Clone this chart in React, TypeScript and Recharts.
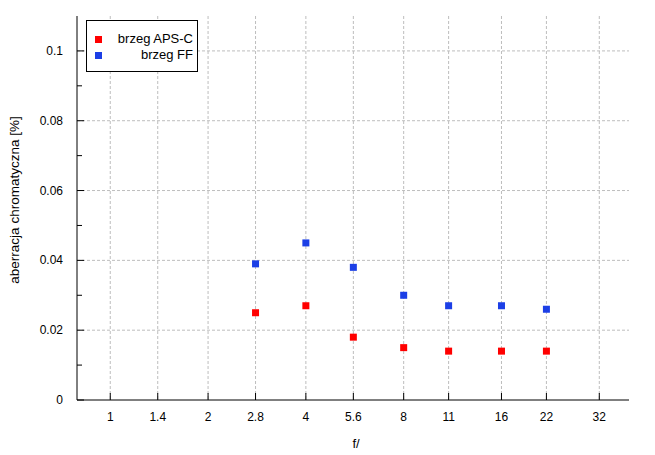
import React from 'react';
import { ScatterChart, Scatter, XAxis, YAxis, CartesianGrid } from 'recharts';

const apertures = [2.8, 4, 5.6, 8, 11, 16, 22];
const apscEdge = [0.025, 0.027, 0.018, 0.015, 0.014, 0.014, 0.014];
const ffEdge = [0.039, 0.045, 0.038, 0.03, 0.027, 0.027, 0.026];
const xTicks = [1, 1.4, 2, 2.8, 4, 5.6, 8, 11, 16, 22, 32];
const yTicks = [0, 0.01, 0.02, 0.03, 0.04, 0.05, 0.06, 0.07, 0.08, 0.09, 0.1];
const yMajor = [0.02, 0.04, 0.06, 0.08, 0.1];

const RED = '#ff0000';
const BLUE = '#1c3fe6';
const FONT = '"Liberation Sans", Arial, sans-serif';

const apscData = apertures.map((f, i) => ({ f, v: apscEdge[i] }));
const ffData = apertures.map((f, i) => ({ f, v: ffEdge[i] }));

const series = [
  { name: 'brzeg APS-C', color: RED, data: apscData },
  { name: 'brzeg FF', color: BLUE, data: ffData },
];

const X_MARGIN = 10;
const Y_MARGIN = 14;

const XTick = (props: any) => {
  const { x, y, payload } = props;
  const axisY = y - X_MARGIN;
  return (
    <g>
      <line x1={x} x2={x} y1={axisY} y2={axisY - 7} stroke="#000" />
      <text x={x} y={y} dy={11} textAnchor="middle" fill="#000" fontSize={12} fontFamily={FONT}>
        {String(payload.value)}
      </text>
    </g>
  );
};

const YTick = (props: any) => {
  const { x, y, payload, index } = props;
  const axisX = x + Y_MARGIN;
  const minor = index % 2 === 1;
  return (
    <g>
      <line x1={axisX} x2={axisX + (minor ? 5 : 7)} y1={y} y2={y} stroke="#000" />
      {!minor && (
        <text x={x} y={y} dy={4} textAnchor="end" fill="#000" fontSize={12} fontFamily={FONT}>
          {String(+Number(payload.value).toFixed(2))}
        </text>
      )}
    </g>
  );
};

const Square = (props: any) => {
  const { cx, cy, fill } = props;
  return <rect x={cx - 3.5} y={cy - 3.5} width={7} height={7} fill={fill} />;
};

// legend box drawn over the plot, top-left corner
const LegendBox = () => (
  <div
    style={{
      position: 'absolute',
      left: 86,
      top: 20,
      border: '1px solid #000',
      background: '#fff',
      width: 110,
      height: 50,
      fontFamily: FONT,
      fontSize: 13,
      color: '#000',
    }}
  >
    {series.map((s, i) => (
      <div key={s.name} style={{ position: 'absolute', left: 0, right: 4, top: 10 + i * 16, height: 15, lineHeight: '15px' }}>
        <span style={{ position: 'absolute', left: 8, top: 5, width: 7, height: 7, background: s.color }} />
        <span style={{ position: 'absolute', right: 0, top: 0, whiteSpace: 'nowrap' }}>{s.name}</span>
      </div>
    ))}
  </div>
);

export default function App() {
  return (
    <div style={{ position: 'absolute', left: 0, top: 0, width: 655, height: 455, background: '#fff' }}>
      <ScatterChart width={655} height={455} margin={{ top: 16, right: 26, bottom: 0, left: 0 }}>
        <CartesianGrid
          stroke="#bdbdbd"
          strokeDasharray="3 2"
          horizontalValues={yMajor}
          verticalValues={xTicks}
        />
        <XAxis
          dataKey="f"
          type="number"
          scale="log"
          domain={[0.79, 39.5]}
          allowDataOverflow
          ticks={xTicks}
          interval={0}
          height={55}
          tickSize={0}
          tickMargin={X_MARGIN}
          tickLine={false}
          axisLine={{ stroke: '#000' }}
          tick={<XTick />}
          label={({ viewBox }: any) => (
            <text
              x={viewBox.x + viewBox.width / 2 + 3}
              y={viewBox.y + 48}
              textAnchor="middle"
              fontSize={13}
              fontFamily={FONT}
              fill="#000"
            >
              f/
            </text>
          )}
        />
        <XAxis
          xAxisId="top"
          orientation="top"
          type="number"
          scale="log"
          domain={[0.79, 39.5]}
          allowDataOverflow
          height={0}
          tick={false}
          tickLine={false}
          axisLine={{ stroke: '#000' }}
        />
        <YAxis
          dataKey="v"
          type="number"
          domain={[0, 0.11]}
          allowDataOverflow
          ticks={yTicks}
          interval={0}
          width={77}
          tickSize={0}
          tickMargin={Y_MARGIN}
          tickLine={false}
          axisLine={{ stroke: '#000' }}
          tick={<YTick />}
          label={({ viewBox }: any) => {
            const cx = 14;
            const cy = viewBox.y + viewBox.height / 2 - 8;
            return (
              <text
                x={cx}
                y={cy}
                transform={`rotate(-90 ${cx} ${cy})`}
                textAnchor="middle"
                dominantBaseline="central"
                fontSize={13.5}
                fontFamily={FONT}
                fill="#000"
              >
                aberracja chromatyczna [%]
              </text>
            );
          }}
        />
        <YAxis
          yAxisId="right"
          orientation="right"
          type="number"
          domain={[0, 0.11]}
          width={0}
          tick={false}
          tickLine={false}
          axisLine={{ stroke: '#000' }}
        />
        {series.map((s) => (
          <Scatter
            key={s.name}
            name={s.name}
            data={s.data}
            fill={s.color}
            shape={<Square />}
            isAnimationActive={false}
          />
        ))}
      </ScatterChart>
      <LegendBox />
    </div>
  );
}
